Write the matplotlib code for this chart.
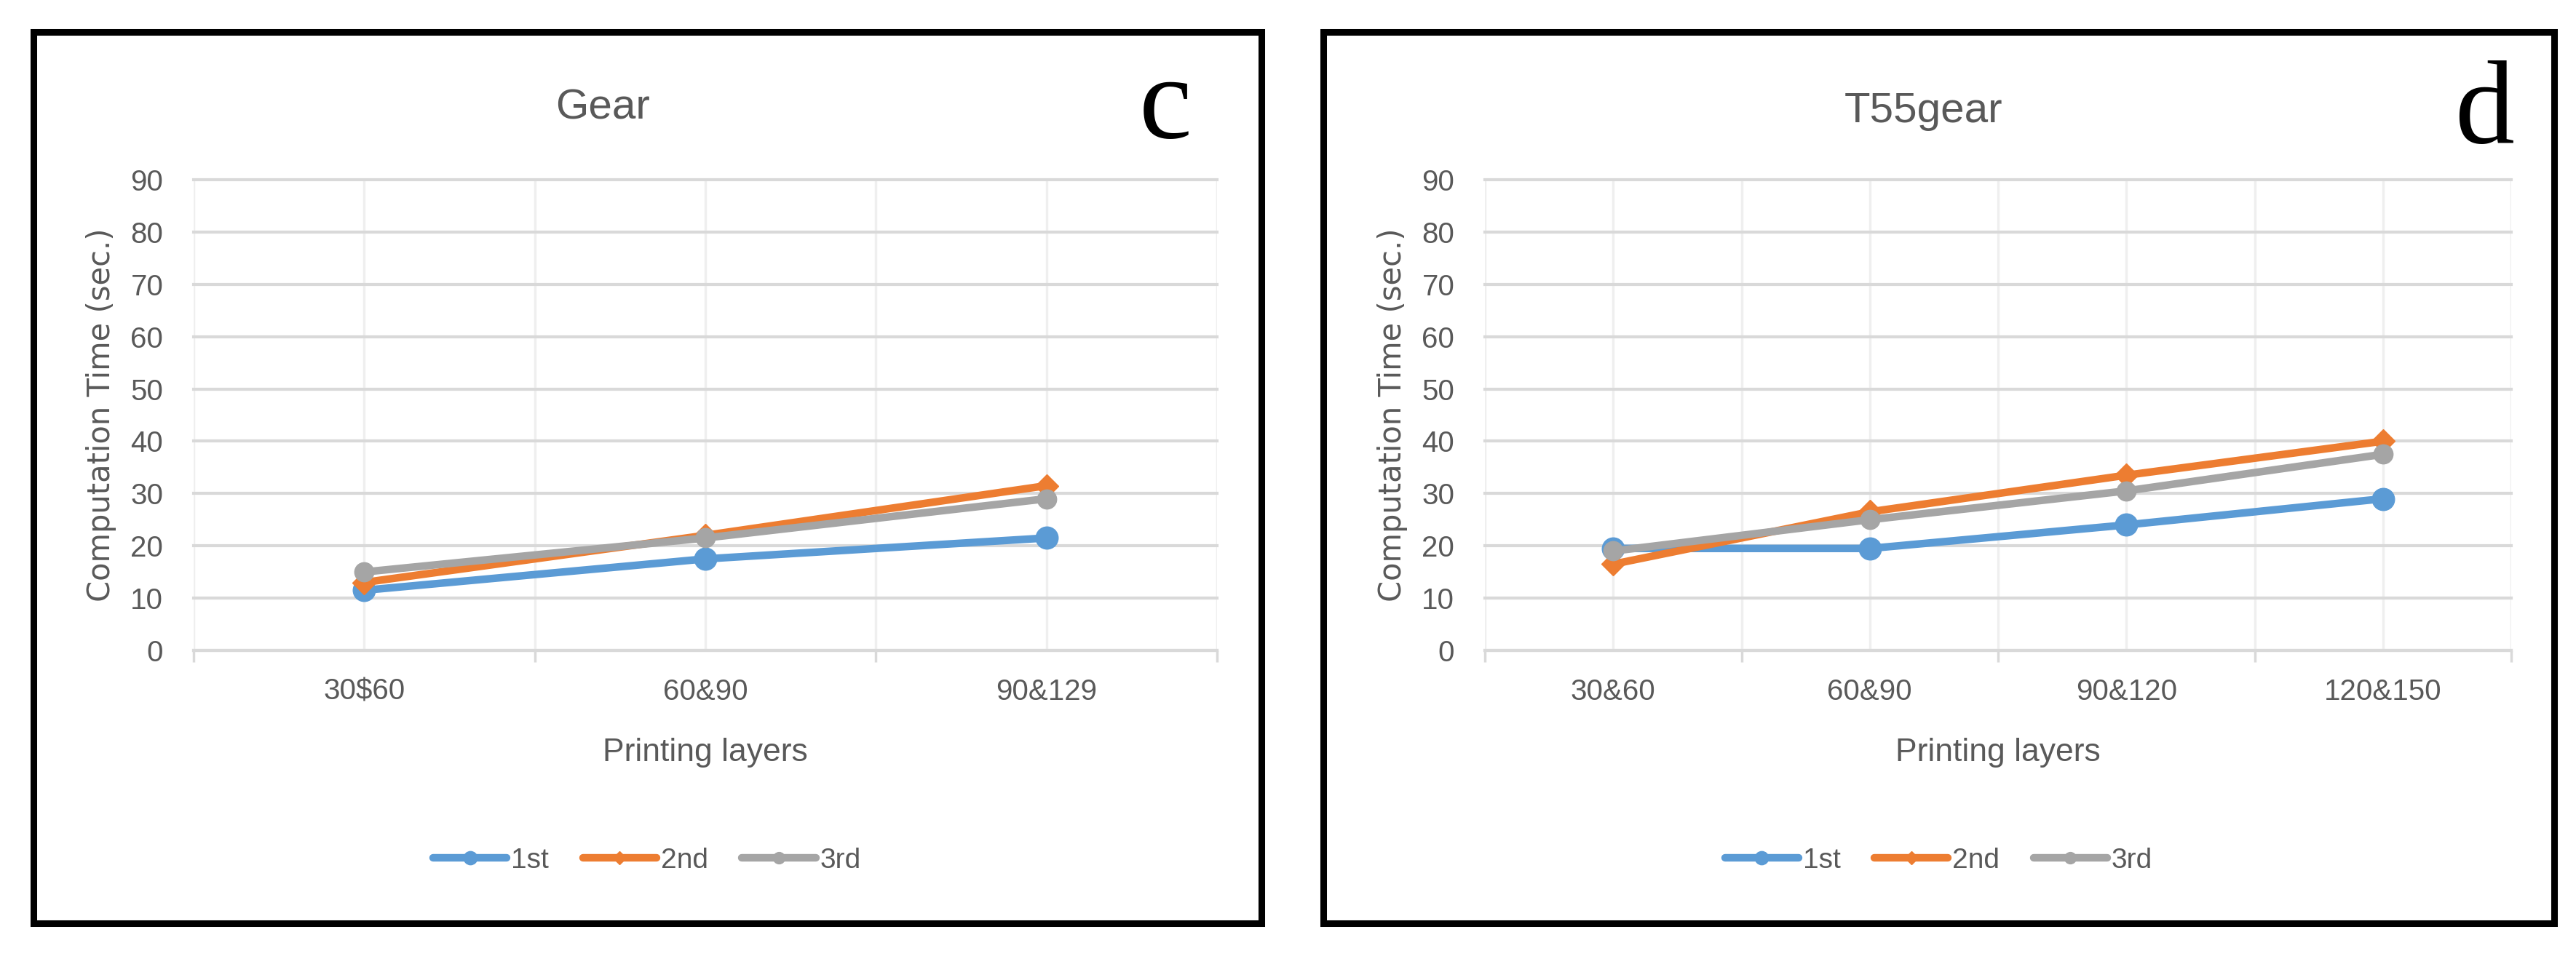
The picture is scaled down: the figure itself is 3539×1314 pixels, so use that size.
import matplotlib
matplotlib.use("Agg")
import matplotlib.pyplot as plt
from matplotlib.patches import Rectangle
import numpy as np

# data
gear_layers = ['30$60', '60&90', '90&129']
gear_1st = [11.5, 17.5, 21.5]
gear_2nd = [13, 22, 31.5]
gear_3rd = [15, 21.5, 29]

t55_layers = ['30&60', '60&90', '90&120', '120&150']
t55_1st = [19.5, 19.5, 24, 29]
t55_2nd = [16.5, 26.5, 33.5, 40]
t55_3rd = [19, 25, 30.5, 37.5]

series_names = ['1st', '2nd', '3rd']
colors = ['#5b9bd5', '#ed7d31', '#a5a5a5']
markers = ['o', 'D', 'o']
msizes = [22, 16, 19]

W, H = 3539, 1314
plt.rcParams['font.family'] = ['Liberation Sans', 'DejaVu Sans']
txt_col = '#595959'

fig = plt.figure(figsize=(W / 100, H / 100), dpi=100)
fig.patch.set_facecolor('white')


def fx(x):
    return x / W


def fy(y):
    return 1 - y / H


def make_panel(x0, x1, cats, values, title, title_x, title_base, letter, letter_x, letter_base, border):
    ax = fig.add_axes([fx(x0), fy(894), fx(x1) - fx(x0), (894 - 247) / H])
    n = len(cats)
    xs = np.arange(n)
    for vals, name, c, m, ms in zip(values, series_names, colors, markers, msizes):
        ax.plot(xs, vals, color=c, lw=7.5, marker=m, ms=ms, mec=c, mfc=c,
                label=name, zorder=3, solid_capstyle='round')
    ax.set_xlim(-0.5, n - 0.5)
    ax.set_ylim(0, 90)
    ax.set_yticks(range(0, 91, 10))
    ax.set_xticks(xs)
    ax.set_xticklabels(cats)
    ax.set_xticks(np.arange(n + 1) - 0.5, minor=True)
    ax.tick_params(axis='y', length=0, pad=30, labelsize=29, labelcolor=txt_col)
    ax.tick_params(axis='x', which='major', length=0, pad=27, labelsize=29, labelcolor=txt_col)
    ax.tick_params(axis='x', which='minor', length=11.5, width=2.5, color='#d9d9d9')
    ax.grid(axis='y', color='#d9d9d9', lw=3, zorder=0)
    ax.grid(axis='x', which='both', color='#efefef', lw=2.5, zorder=0)
    for gl in ax.get_ygridlines():
        gl.set_clip_on(False)
    for s in ['top', 'left', 'right']:
        ax.spines[s].set_visible(False)
    ax.spines['bottom'].set_color('#d9d9d9')
    ax.spines['bottom'].set_linewidth(3)
    ax.set_axisbelow(True)

    xc = (x0 + x1) / 2
    fig.text(fx(xc), fy(1046), 'Printing layers', ha='center', va='baseline',
             fontsize=32, color=txt_col)
    fig.text(fx(x0 - 127), fy(570), 'Computation Time (sec.)', rotation=90,
             ha='center', va='center', fontsize=30, color=txt_col,
             family='DejaVu Sans')
    fig.text(fx(title_x), fy(title_base), title, ha='center', va='baseline',
             fontsize=42, color=txt_col)
    fig.text(fx(letter_x), fy(letter_base), letter, ha='center', va='baseline',
             fontsize=118, family='Liberation Serif', color='black')

    bx0, bx1, by0, by1 = border
    fig.patches.append(Rectangle((fx(bx0), fy(by1)), fx(bx1) - fx(bx0), (by1 - by0) / H,
                                 transform=fig.transFigure, fill=False,
                                 lw=6.5, edgecolor='black'))
    pc = (bx0 + bx1) / 2
    ax.legend(loc='center', bbox_to_anchor=(fx(pc), fy(1183)), bbox_transform=fig.transFigure,
              ncol=3, frameon=False, fontsize=28, labelcolor=txt_col, markerscale=0.6,
              handlelength=2.6, handletextpad=0.15, columnspacing=1.2)
    return ax


make_panel(266, 1672, gear_layers, [gear_1st, gear_2nd, gear_3rd],
           'Gear', 828, 163, 'c', 1601, 189, (45.5, 1732.5, 43.5, 1269))
make_panel(2040, 3450, t55_layers, [t55_1st, t55_2nd, t55_3rd],
           'T55gear', 2643, 168, 'd', 3413, 196, (1818, 3508.5, 43.5, 1269))

fig.savefig('out.png', dpi=100, facecolor='white')
